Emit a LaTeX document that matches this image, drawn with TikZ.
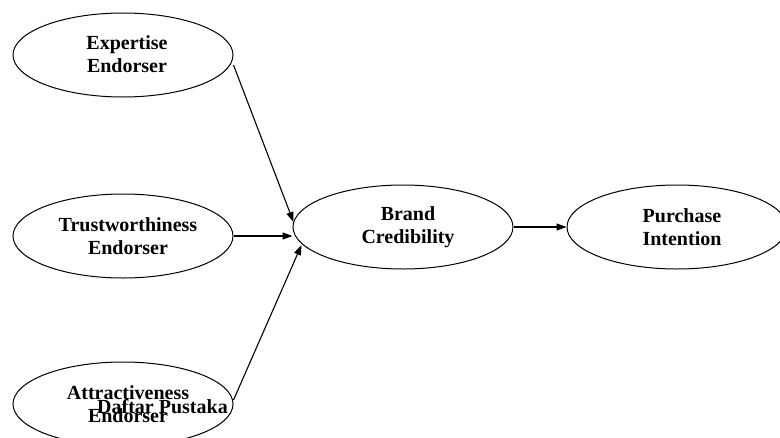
\documentclass[tikz,border=0pt]{standalone}
\usepackage{fontspec}
\setmainfont{Liberation Serif}
\usetikzlibrary{shapes.geometric,arrows.meta,calc}
\tikzset{
  construct/.style={ellipse,draw=black,line width=1pt,minimum width=220pt,minimum height=84pt,inner sep=0pt},
  lbl/.style={align=center,font=\fontsize{20}{23}\selectfont\bfseries,inner sep=0pt},
  link/.style={line width=1.1pt,-{Triangle[length=10pt,width=7pt]}}
}
\begin{document}
\begin{tikzpicture}[x=1pt,y=-1pt]
\useasboundingbox (0,0) rectangle (780,437);
\clip (0,0) rectangle (780,437);
\fill[white] (0,0) rectangle (780,437);
\node[construct] (e1) at (123,55) {};
\node[construct] (e2) at (123,236) {};
\node[construct] (e3) at (123,404) {};
\node[construct] (bc) at (403,227) {};
\node[construct] (pi) at (677,227) {};
\node[lbl] (t1) at ($(e1.center)+(4,-1)$) {Expertise\\Endorser};
\node[lbl] (t2) at ($(e2.center)+(5,0)$) {Trustworthiness\\Endorser};
\node[lbl] (t3) at ($(e3.center)+(5,0)$) {Attractiveness\\Endorser};
\node[lbl] (t4) at ($(bc.center)+(5,0)$) {Brand\\Credibility};
\node[lbl] (t5) at ($(pi.center)+(5,0)$) {Purchase\\Intention};
\node[lbl,anchor=base] (dp) at (162.5,413) {Daftar Pustaka};
\draw[link] ($(e1.east)+(0,10)$) -- ($(bc.west)+(1,-5)$);
\draw[link] (e2.east) -- ($(bc.west)+(0,9)$);
\draw[link] ($(e3.east)+(0,-4)$) -- ($(bc.west)+(9,18)$);
\draw[link] (bc.east) -- (pi.west);
\end{tikzpicture}
\end{document}
